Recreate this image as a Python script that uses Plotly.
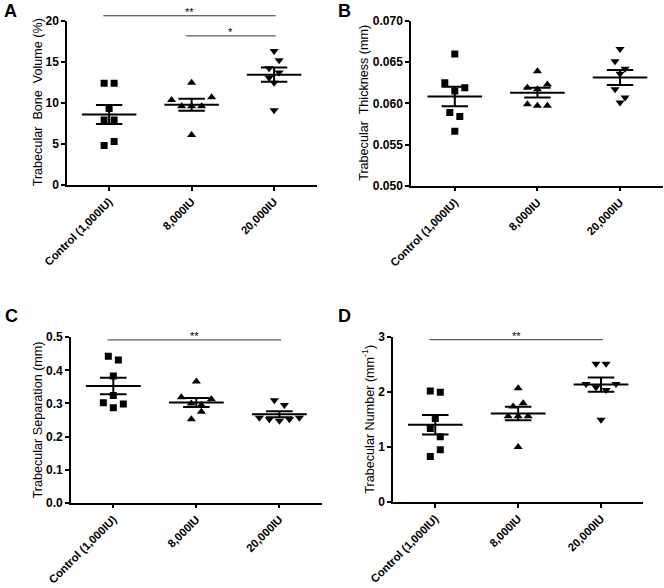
import statistics
import plotly.graph_objects as go

W, H = 664, 588
FONT = "Liberation Sans, Arial, sans-serif"

groups = ["Control (1,000IU)", "8,000IU", "20,000IU"]
symbols = ["square", "triangle-up", "triangle-down"]

# A - trabecular bone volume (%)
bv_control = [12.4, 12.4, 9.3, 7.9, 7.9, 4.8, 5.3]
bv_8000 = [12.45, 10.34, 9.6, 9.6, 9.6, 10.67, 6.1]
bv_20000 = [16.3, 14.2, 15.2, 13.05, 13.7, 12.45, 9.1]
sig_bv = [(0, 2, "**", 20.6), (1, 2, "*", 18.15)]

# B - trabecular thickness (mm)
tb_control = [0.0660, 0.0625, 0.0615, 0.0619, 0.0589, 0.0584, 0.0566]
tb_8000 = [0.0639, 0.0619, 0.0617, 0.0623, 0.0599, 0.0597, 0.0597]
tb_20000 = [0.0666, 0.0651, 0.0642, 0.0636, 0.0617, 0.0607, 0.0601]
sig_tb = []

# C - trabecular separation (mm)
ts_control = [0.443, 0.431, 0.383, 0.302, 0.324, 0.298, 0.287]
ts_8000 = [0.366, 0.319, 0.300, 0.295, 0.313, 0.252, 0.275]
ts_20000 = [0.310, 0.295, 0.257, 0.252, 0.248, 0.252, 0.257]
sig_ts = [(0, 2, "**", 0.492)]

# D - trabecular number (1/mm)
tn_control = [2.02, 2.00, 1.52, 1.34, 1.19, 0.83, 0.95]
tn_8000 = [2.07, 1.74, 1.80, 1.56, 1.56, 1.56, 1.00]
tn_20000 = [2.52, 2.52, 2.15, 2.09, 2.04, 2.15, 1.50]
sig_tn = [(0, 2, "**", 2.955)]

panels = [
    dict(letter="A", data=[bv_control, bv_8000, bv_20000], sig=sig_bv,
         title="Trabecular  Bone  Volume (%)", yr=[0, 20], dtick=5, fmt="d",
         xd=[0.101, 0.4774], yd=[0.6854, 0.9648], xr=[-0.51, 2.52],
         letter_px=(2, 11), title_px=37.5),
    dict(letter="B", data=[tb_control, tb_8000, tb_20000], sig=sig_tb,
         title="Trabecular  Thickness (mm)", yr=[0.05, 0.07], dtick=0.005, fmt=".3f",
         xd=[0.619, 0.9985], yd=[0.6842, 0.9643], xr=[-0.53, 2.52],
         letter_px=(336, 11), title_px=364.5),
    dict(letter="C", data=[ts_control, ts_8000, ts_20000], sig=sig_ts,
         title="Trabecular Separation (mm)", yr=[0, 0.5], dtick=0.1, fmt=".1f",
         xd=[0.1069, 0.4845], yd=[0.1451, 0.4264], xr=[-0.51, 2.51],
         letter_px=(3, 316), title_px=37.5),
    dict(letter="D", data=[tn_control, tn_8000, tn_20000], sig=sig_tn,
         title="Trabecular Number (mm<sup>-1</sup>)", yr=[0, 3], dtick=1, fmt="d",
         xd=[0.5919, 0.9688], yd=[0.1463, 0.4264], xr=[-0.51, 2.51],
         letter_px=(336, 316), title_px=368),
]


def swarm(vals, px_unit, px_cat, thr=9, step=10):
    # group close values into rows and spread each row symmetrically
    order = sorted(range(len(vals)), key=lambda i: -vals[i])
    rows, cur = [], []
    for i in order:
        if cur and (vals[cur[0]] - vals[i]) * px_unit > thr:
            rows.append(cur)
            cur = []
        cur.append(i)
    rows.append(cur)
    offs = [0.0] * len(vals)
    for row in rows:
        row.sort()
        n = len(row)
        for k, i in enumerate(row):
            offs[i] = (k - (n - 1) / 2) * step / px_cat
    return offs


fig = go.Figure()
shapes, annotations = [], []

for p_i, p in enumerate(panels):
    sfx = "" if p_i == 0 else str(p_i + 1)
    xa, ya = "x" + sfx, "y" + sfx
    px_unit = (p["yd"][1] - p["yd"][0]) * H / (p["yr"][1] - p["yr"][0])
    px_cat = (p["xd"][1] - p["xd"][0]) * W / (p["xr"][1] - p["xr"][0])

    for g, vals in enumerate(p["data"]):
        offs = swarm(vals, px_unit, px_cat)
        fig.add_trace(go.Scatter(
            x=[g + o for o in offs], y=vals, mode="markers", xaxis=xa, yaxis=ya,
            marker=dict(symbol=symbols[g], size=7 if g == 0 else 8, color="black"),
            showlegend=False, hoverinfo="skip"))
        m = statistics.mean(vals)
        se = statistics.stdev(vals) / len(vals) ** 0.5
        xs = [g - 0.33, g + 0.33, None, g - 0.16, g + 0.16, None,
              g - 0.16, g + 0.16, None, g, g]
        ys = [m, m, None, m + se, m + se, None, m - se, m - se, None, m - se, m + se]
        fig.add_trace(go.Scatter(
            x=xs, y=ys, mode="lines", xaxis=xa, yaxis=ya,
            line=dict(color="black", width=2), showlegend=False, hoverinfo="skip"))

    for a, b, label, lvl in p["sig"]:
        yp = p["yd"][0] + (lvl - p["yr"][0]) / (p["yr"][1] - p["yr"][0]) * (p["yd"][1] - p["yd"][0])
        shapes.append(dict(type="line", xref=xa, yref="paper", x0=a - 0.07, x1=b + 0.02,
                           y0=yp, y1=yp, line=dict(color="#333333", width=1)))
        annotations.append(dict(text=label, xref=xa, yref="paper", x=(a + b) / 2 - 0.025, y=yp,
                                yanchor="bottom", showarrow=False, yshift=-4,
                                font=dict(family=FONT, size=11, color="black")))

    annotations.append(dict(text="<b>" + p["letter"] + "</b>", xref="paper", yref="paper",
                            x=p["letter_px"][0] / W, y=1 - p["letter_px"][1] / H,
                            xanchor="left", yanchor="middle", showarrow=False,
                            font=dict(family=FONT, size=18, color="black")))
    annotations.append(dict(text=p["title"], xref="paper", yref="paper",
                            x=p["title_px"] / W, y=sum(p["yd"]) / 2, textangle=-90,
                            xanchor="center", yanchor="middle", showarrow=False,
                            font=dict(family=FONT, size=12.6, color="black")))

    n_ticks = round((p["yr"][1] - p["yr"][0]) / p["dtick"])
    yticks = [p["yr"][0] + k * p["dtick"] for k in range(n_ticks + 1)]
    ytext = [format(round(v), "d") if p["fmt"] == "d" else format(v, p["fmt"]) for v in yticks]

    axis_common = dict(showline=True, linecolor="black", linewidth=1.6, ticks="outside",
                       ticklen=4, tickwidth=1.6, tickcolor="black", showgrid=False,
                       zeroline=False, automargin=False)
    fig.update_layout({
        "xaxis" + sfx: dict(axis_common, domain=p["xd"], range=p["xr"], anchor=ya,
                            tickmode="array", tickvals=[0, 1, 2], ticktext=groups,
                            tickangle=-45,
                            tickfont=dict(family=FONT, size=11.3, color="black", weight="bold")),
        "yaxis" + sfx: dict(axis_common, domain=p["yd"], range=p["yr"], anchor=xa,
                            tickmode="array", tickvals=yticks, ticktext=ytext,
                            tickfont=dict(family=FONT, size=12, color="black", weight="bold")),
    })

fig.update_layout(width=W, height=H, margin=dict(l=0, r=0, t=0, b=0),
                  paper_bgcolor="white", plot_bgcolor="white",
                  shapes=shapes, annotations=annotations,
                  font=dict(family=FONT, color="black"))

# the page's default body margin would shift the figure by 8px
fig.write_html("out.html", config={"displayModeBar": False},
               post_script="document.body.style.margin = '0';")
